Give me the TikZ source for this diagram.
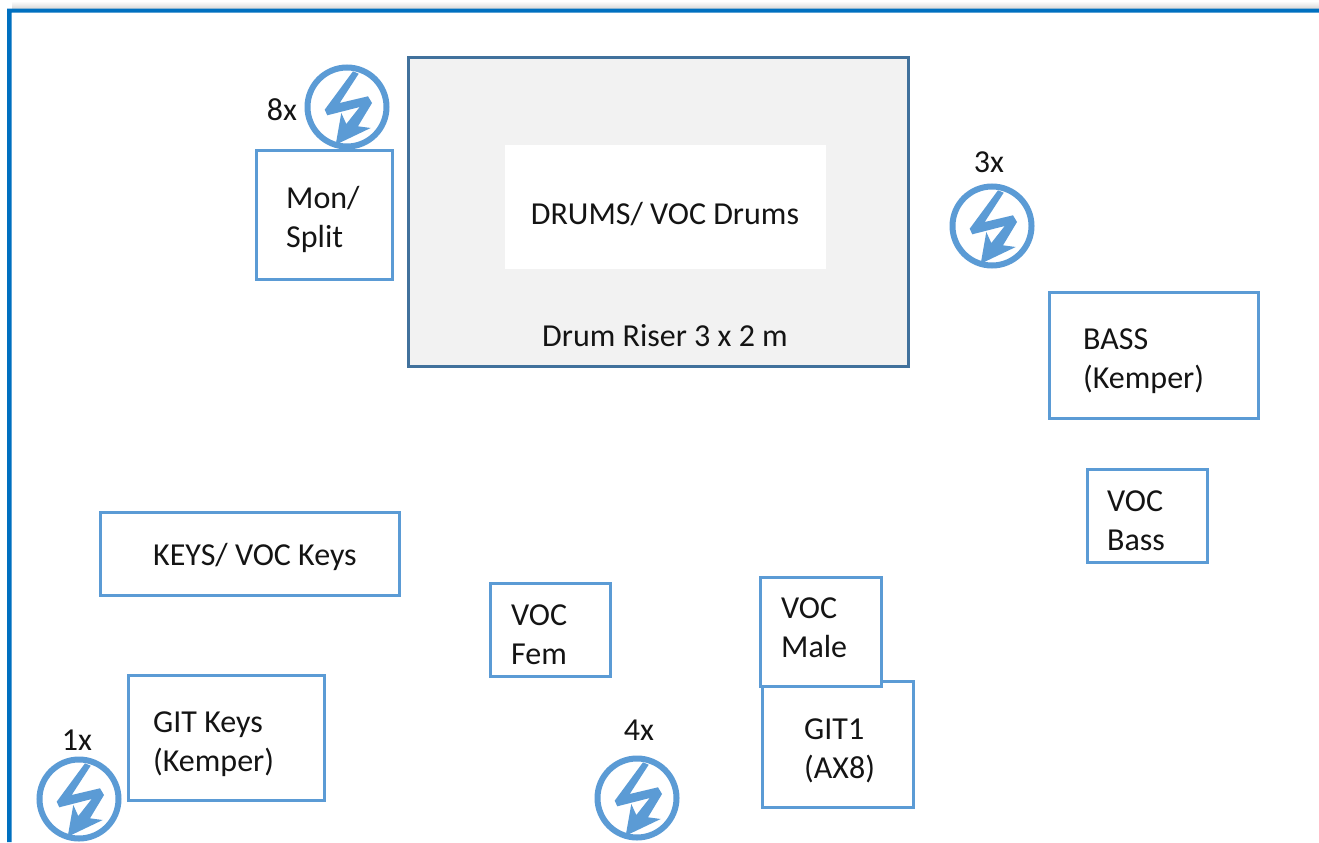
\documentclass[tikz,border=0pt]{standalone}
\usepackage{fontspec}
\setmainfont{Carlito}
\usetikzlibrary{calc}
\definecolor{pblue}{HTML}{5B9BD5}
\definecolor{frameblue}{HTML}{0070C0}
\definecolor{riseredge}{HTML}{41719C}
\tikzset{
  x=1bp,y=-1bp,
  boxb/.style={draw=pblue,line width=2.8bp,fill=white,inner sep=0pt,outer sep=0pt},
  riser/.style={draw=riseredge,line width=2.8bp,fill=black!5,inner sep=0pt,outer sep=0pt},
  inner/.style={fill=white,inner sep=0pt,outer sep=0pt},
  lab/.style={font=\fontsize{32bp}{39bp}\selectfont,align=left,anchor=west,inner sep=0pt,text=black!92},
  ctr/.style={font=\fontsize{32bp}{39bp}\selectfont,inner sep=0pt,text=black!92},
  ring/.style={circle,draw=pblue,line width=6bp,fill=white,minimum size=79bp,inner sep=0pt},
}
\newcommand{\mybox}[6]{% name, x1,y1,x2,y2, style
  \node[#6,minimum width=#4bp-#2bp-1bp,minimum height=#5bp-#3bp-1bp] (#1) at ({(#2+#4)/2},{(#3+#5)/2}) {};}
\newcommand{\bolt}[3]{% name, cx, cy
  \node[ring] (#1) at (#2,#3) {};
  \begin{scope}[shift={(#1.center)}]
  \fill[pblue] (6,-35.7) -- (11.7,-33.3) -- (-7.3,-4) -- (21,-10.7) -- (25,-4) -- (11,19.3)
    -- (23.7,21) -- (-11.3,37.7) -- (-5.7,6) -- (-0.7,17) -- (12.7,0) -- (-19.7,8.3) -- (-22.3,2.7) -- cycle;
  \end{scope}
}
\begin{document}
\begin{tikzpicture}
\useasboundingbox (0,0) rectangle (1319,842);
\fill[white] (0,0) rectangle (1319,842);
% soft shadow above the frame
\shade[top color=white,bottom color=black!16] (12,1) rectangle (1319,9);
\fill[frameblue] (7,842) -- (7,8.5) -- (1319,8.5) -- (1319,12.5) -- (11.5,12.5) -- (11.5,842) -- cycle;
% riser
\mybox{riserbox}{408}{57}{909}{367}{riser}
\mybox{drumsbox}{504}{144}{826}{269}{inner}
\node[ctr] (drumstxt) at (665,214) {DRUMS/ VOC Drums};
\node[ctr] (risertxt) at (665,336) {Drum Riser 3 x 2 m};
% boxes
\mybox{mon}{256}{150}{393}{280}{boxb}
\node[lab] (montxt) at (286,219) {Mon/\\Split};
\mybox{bass}{1049}{292}{1259}{419}{boxb}
\node[lab] (basstxt) at (1083,361) {BASS\\(Kemper)};
\mybox{vocbass}{1087}{469}{1208}{563}{boxb}
\node[lab] (vocbasstxt) at (1107,521) {VOC\\Bass};
\mybox{keys}{100}{512}{400}{596}{boxb}
\node[lab] (keystxt) at (153,556.5) {KEYS/ VOC Keys};
\mybox{vocfem}{490}{583}{611}{677}{boxb}
\node[lab] (vocfemtxt) at (511,635) {VOC\\Fem};
\mybox{git1}{762}{681}{914}{808}{boxb}
\node[lab] (git1txt) at (804,750.5) {GIT1\\(AX8)};
\mybox{vocmale}{760}{577}{882}{687}{boxb}
\node[lab] (vocmaletxt) at (781,628) {VOC\\Male};
\mybox{gitkeys}{128}{675}{325}{801}{boxb}
\node[lab] (gitkeystxt) at (153,744) {GIT Keys\\(Kemper)};
% power symbols
\bolt{p8}{347}{107}
\bolt{p3}{992}{226}
\bolt{p1}{79}{799}
\bolt{p4}{637}{798}
\node[ctr] (n8) at (282,110) {8x};
\node[ctr] (n3) at (989,162) {3x};
\node[ctr] (n1) at (77,740) {1x};
\node[ctr] (n4) at (639,730) {4x};
\end{tikzpicture}
\end{document}
